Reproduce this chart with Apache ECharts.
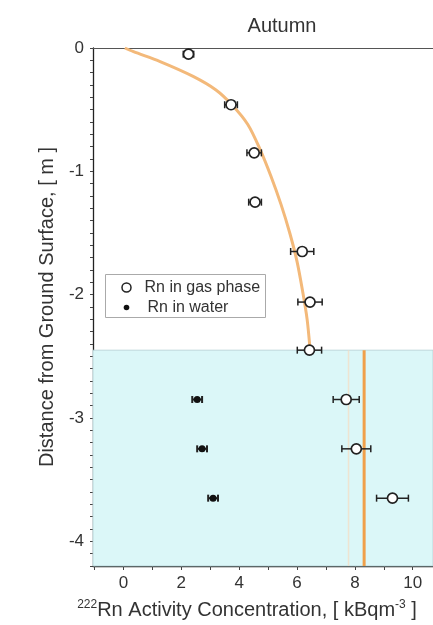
<!DOCTYPE html>
<html>
<head>
<meta charset="utf-8">
<script src="https://cdn.jsdelivr.net/npm/echarts@6/dist/echarts.min.js"></script>
<style>
  html, body { margin: 0; padding: 0; background: #ffffff; }
  #chart { width: 433px; height: 625px; }
</style>
</head>
<body>
<div id="chart"></div>
<script>
// Radon in gas phase: concentration (kBq/m3), depth (m), half-width of error bar
const gasConc  = [2.25, 3.72, 4.52, 4.55, 6.18, 6.45, 6.43, 7.70, 8.05, 9.30];
const gasDepth = [-0.05, -0.46, -0.85, -1.25, -1.65, -2.06, -2.45, -2.85, -3.25, -3.65];
const gasErr   = [0.18, 0.22, 0.25, 0.22, 0.40, 0.42, 0.42, 0.45, 0.50, 0.55];

// Radon dissolved in water
const waterConc  = [2.55, 2.72, 3.10];
const waterDepth = [-2.85, -3.25, -3.65];
const waterErr   = [0.17, 0.17, 0.17];

// Fitted diffusion profile above the water table
const curveConc  = [0.05, 0.35, 1.27, 2.41, 3.20, 3.75, 4.30, 4.72, 5.10, 5.45, 5.75, 6.00, 6.20, 6.35, 6.45];
const curveDepth = [0, -0.03, -0.11, -0.23, -0.34, -0.46, -0.62, -0.82, -1.04, -1.27, -1.50, -1.73, -1.98, -2.20, -2.44];

// Equilibrium level below the water table
const equilConc  = [8.32, 8.32];
const equilDepth = [-2.45, -4.2];
const bandConc   = [7.78, 7.78];

const waterTable = -2.45;

// Axis ranges and tick labels
const xMin = -1.05, xMax = 10.7;
const yMin = -4.2, yMax = 0;
const xTickLabels = [0, 2, 4, 6, 8, 10];
const yTickLabels = [0, -1, -2, -3, -4];

const xMinorTicks = [];
for (let v = -1; v <= 10; v++) xMinorTicks.push(v);
const yMinorTicks = [];
for (let k = 0; k <= 42; k++) yMinorTicks.push(-k / 10);

const FONT = '"Liberation Sans", Arial, sans-serif';
const INK = '#222';

function pairs(xs, ys) { return xs.map((x, i) => [x, ys[i]]); }
function barRows(xs, ys, es) { return xs.map((x, i) => [x, ys[i], x - es[i], x + es[i]]); }

function errorBar(cap, width) {
  return function (params, api) {
    const y = api.value(1);
    const a = api.coord([api.value(2), y]);
    const b = api.coord([api.value(3), y]);
    const st = { stroke: INK, lineWidth: width };
    return {
      type: 'group',
      children: [
        { type: 'line', shape: { x1: a[0], y1: a[1], x2: b[0], y2: b[1] }, style: st },
        { type: 'line', shape: { x1: a[0], y1: a[1] - cap, x2: a[0], y2: a[1] + cap }, style: st },
        { type: 'line', shape: { x1: b[0], y1: b[1] - cap, x2: b[0], y2: b[1] + cap }, style: st }
      ]
    };
  };
}

const chart = echarts.init(document.getElementById('chart'), null, { renderer: 'canvas' });

chart.setOption({
  animation: false,
  backgroundColor: '#ffffff',
  textStyle: { fontFamily: FONT },
  title: {
    text: 'Autumn',
    left: 277,
    top: 11,
    textAlign: 'center',
    textStyle: { fontFamily: FONT, fontSize: 20, fontWeight: 'normal', color: '#333' }
  },
  grid: { left: 93, right: 0, top: 48, bottom: 57, containLabel: false },
  xAxis: [
    {
      type: 'value',
      min: xMin,
      max: xMax,
      position: 'bottom',
      axisLine: { show: true, onZero: false, lineStyle: { color: INK, width: 1.3 } },
      axisTick: { show: true, inside: false, length: 4, customValues: xMinorTicks, lineStyle: { color: '#444', width: 1 } },
      axisLabel: { customValues: xTickLabels, fontSize: 17, color: '#333', margin: 9, fontFamily: FONT },
      splitLine: { show: false },
      name: '{sup|222}{b|Rn Activity Concentration, [ kBqm}{sup|-3}{b| ]}',
      nameLocation: 'middle',
      nameGap: 33,
      nameTextStyle: {
        padding: [0, 32, 0, 0],
        rich: {
          b: { fontSize: 20, color: '#333', fontFamily: FONT, lineHeight: 22 },
          sup: { fontSize: 12, color: '#333', fontFamily: FONT, verticalAlign: 'top', lineHeight: 12 }
        }
      }
    },
    {
      type: 'value',
      min: xMin,
      max: xMax,
      position: 'top',
      axisLine: { show: true, onZero: false, lineStyle: { color: '#555', width: 1.2 } },
      axisTick: { show: false },
      axisLabel: { show: false },
      splitLine: { show: false }
    }
  ],
  yAxis: {
    type: 'value',
    min: yMin,
    max: yMax,
    axisLine: { show: true, onZero: false, lineStyle: { color: INK, width: 1.3 } },
    axisTick: { show: true, inside: false, length: 3, customValues: yMinorTicks, lineStyle: { color: '#444', width: 1 } },
    axisLabel: { customValues: yTickLabels, fontSize: 17, color: '#333', margin: 9, fontFamily: FONT },
    splitLine: { show: false },
    name: 'Distance from Ground Surface, [ m ]',
    nameLocation: 'middle',
    nameGap: 35,
    nameTextStyle: { fontSize: 20, color: '#333', fontFamily: FONT }
  },
  series: [
    {
      name: 'equilibrium',
      type: 'line',
      data: pairs(equilConc, equilDepth),
      symbol: 'none',
      z: 3,
      lineStyle: { color: '#f0a04a', width: 3 },
      markArea: {
        silent: true,
        itemStyle: { color: '#dbf7f8', borderColor: '#b3cfd3', borderWidth: 0.8 },
        data: [[{ yAxis: waterTable }, { yAxis: yMin }]]
      }
    },
    {
      name: 'band',
      type: 'line',
      data: pairs(bandConc, equilDepth),
      symbol: 'none',
      z: 2,
      lineStyle: { color: '#f7dcc0', width: 1.5, opacity: 0.7 }
    },
    {
      name: 'profile',
      type: 'line',
      data: pairs(curveConc, curveDepth),
      symbol: 'none',
      smooth: 0.3,
      z: 3,
      lineStyle: { color: '#f3b97a', width: 3 }
    },
    {
      name: 'gas error',
      type: 'custom',
      renderItem: errorBar(3.5, 1.5),
      data: barRows(gasConc, gasDepth, gasErr),
      encode: { x: [0, 2, 3], y: 1 },
      z: 5
    },
    {
      name: 'water error',
      type: 'custom',
      renderItem: errorBar(3.5, 2),
      data: barRows(waterConc, waterDepth, waterErr),
      encode: { x: [0, 2, 3], y: 1 },
      z: 5
    },
    {
      name: 'Rn in gas phase',
      type: 'scatter',
      data: pairs(gasConc, gasDepth),
      symbol: 'circle',
      symbolSize: 10,
      z: 6,
      itemStyle: { color: '#ffffff', borderColor: INK, borderWidth: 1.7, opacity: 1 }
    },
    {
      name: 'Rn in water',
      type: 'scatter',
      data: pairs(waterConc, waterDepth),
      symbol: 'circle',
      symbolSize: 7,
      z: 6,
      itemStyle: { color: '#111', opacity: 1 }
    }
  ],
  graphic: [
    {
      type: 'group',
      left: 105,
      top: 274,
      z: 100,
      children: [
        { type: 'rect', shape: { x: 0, y: 0, width: 160, height: 43 }, style: { fill: '#ffffff', stroke: '#aaaaaa', lineWidth: 1 } },
        { type: 'circle', shape: { cx: 21, cy: 13, r: 4.5 }, style: { fill: '#ffffff', stroke: INK, lineWidth: 1.5 } },
        { type: 'circle', shape: { cx: 21, cy: 33, r: 2.8 }, style: { fill: '#111' } },
        { type: 'text', x: 39, y: 13, style: { text: 'Rn in gas phase', fontSize: 16, fontFamily: FONT, fill: '#333', verticalAlign: 'middle' } },
        { type: 'text', x: 42, y: 33, style: { text: 'Rn in water', fontSize: 16, fontFamily: FONT, fill: '#333', verticalAlign: 'middle' } }
      ]
    }
  ]
});
</script>
</body>
</html>
